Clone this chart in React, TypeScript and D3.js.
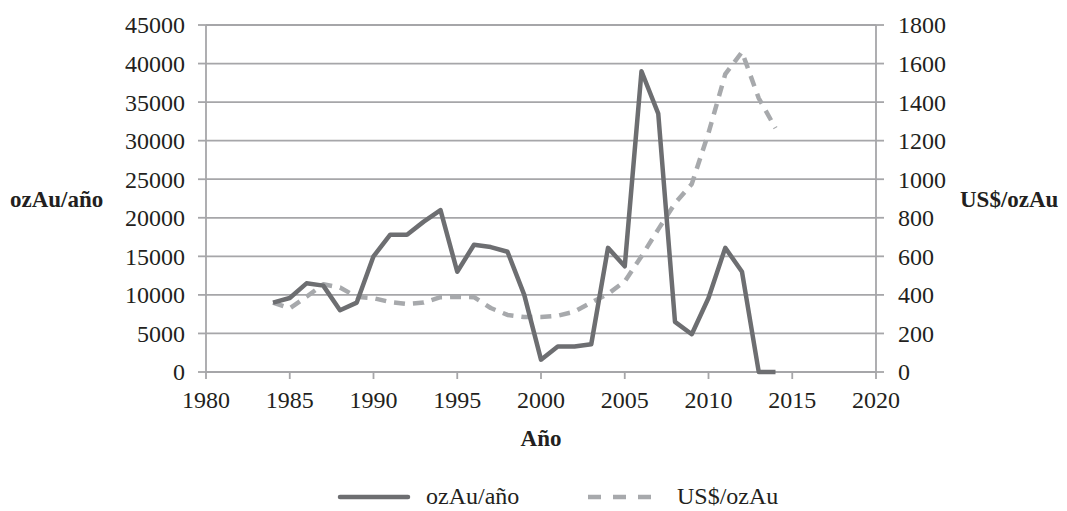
import * as d3 from 'd3';

const years = [1984, 1985, 1986, 1987, 1988, 1989, 1990, 1991, 1992, 1993, 1994, 1995, 1996, 1997, 1998, 1999, 2000, 2001, 2002, 2003, 2004, 2005, 2006, 2007, 2008, 2009, 2010, 2011, 2012, 2013, 2014];
const ozAuYear = [9000, 9600, 11500, 11200, 8000, 9000, 15000, 17800, 17800, 19500, 21000, 13000, 16500, 16200, 15600, 10000, 1600, 3300, 3300, 3600, 16100, 13700, 39000, 33500, 6500, 4900, 9600, 16100, 13000, 0, 0];
const usdPerOz = [360, 330, 390, 455, 438, 390, 383, 363, 353, 360, 388, 390, 388, 332, 296, 285, 285, 292, 313, 360, 405, 470, 600, 740, 875, 975, 1240, 1545, 1660, 1420, 1265];

const xTicks = [1980, 1985, 1990, 1995, 2000, 2005, 2010, 2015, 2020];
const leftTicks = [0, 5000, 10000, 15000, 20000, 25000, 30000, 35000, 40000, 45000];
const rightTicks = [0, 200, 400, 600, 800, 1000, 1200, 1400, 1600, 1800];

const FONT = "'Liberation Serif', 'Times New Roman', 'DejaVu Serif', serif";
const TEXT = '#231f20';
const GRID = '#a6a6a9';
const SOLID = '#6d6e71';
const DASHED = '#a7a9ac';

export default function App() {
  const width = 1067;
  const height = 511;

  const x = d3.scaleLinear().domain([1980, 2020]).range([206, 876]);
  const yL = d3.scaleLinear().domain([0, 45000]).range([372, 25]);
  const yR = d3.scaleLinear().domain([0, 1800]).range([372, 25]);

  const prodLine = d3.line<number>()
    .x((_, i) => x(years[i]))
    .y((d) => yL(d));
  const priceLine = d3.line<number>()
    .x((_, i) => x(years[i]))
    .y((d) => yR(d));

  const [x0, x1] = x.range();
  const y0 = yL(0);
  const txt = { fontFamily: FONT };

  return (
    <svg width={width} height={height} style={{ position: 'absolute', left: 0, top: 0, fontFamily: FONT }}>
      <rect width={width} height={height} fill="#fff" />

      {/* gridlines */}
      {leftTicks.map((t) => (
        <line key={'g' + t} x1={x0} x2={x1} y1={yL(t)} y2={yL(t)} stroke={GRID} strokeWidth={1.8} />
      ))}

      {/* axes */}
      <line x1={x0} x2={x0} y1={yL(45000)} y2={y0} stroke={GRID} strokeWidth={1.8} />
      <line x1={x1} x2={x1} y1={yR(1800)} y2={y0} stroke={GRID} strokeWidth={1.8} />
      <line x1={x0} x2={x1} y1={y0} y2={y0} stroke={GRID} strokeWidth={1.8} />

      {leftTicks.map((t) => (
        <g key={'l' + t}>
          <line x1={x0 - 8} x2={x0} y1={yL(t)} y2={yL(t)} stroke={GRID} strokeWidth={1.8} />
          <text x={185} y={yL(t)} dy="0.35em" textAnchor="end" fontSize={24} fill={TEXT} style={txt}>{t}</text>
        </g>
      ))}
      {rightTicks.map((t) => (
        <g key={'r' + t}>
          <line x1={x1} x2={x1 + 8} y1={yR(t)} y2={yR(t)} stroke={GRID} strokeWidth={1.8} />
          <text x={898} y={yR(t)} dy="0.35em" textAnchor="start" fontSize={24} fill={TEXT} style={txt}>{t}</text>
        </g>
      ))}
      {xTicks.map((t) => (
        <g key={'x' + t}>
          <line x1={x(t)} x2={x(t)} y1={y0} y2={y0 + 7} stroke={GRID} strokeWidth={1.8} />
          <text x={x(t)} y={408} textAnchor="middle" fontSize={24} fill={TEXT} style={txt}>{t}</text>
        </g>
      ))}

      {/* axis titles */}
      <text x={10} y={207} fontSize={23} fontWeight="bold" fill={TEXT} style={txt}>ozAu/año</text>
      <text x={960} y={207} fontSize={23} fontWeight="bold" fill={TEXT} style={txt}>US$/ozAu</text>
      <text x={541} y={446} textAnchor="middle" fontSize={23} fontWeight="bold" fill={TEXT} style={txt}>Año</text>

      {/* series */}
      <path d={priceLine(usdPerOz) ?? ''} fill="none" stroke={DASHED} strokeWidth={4.5} strokeDasharray="11,8" strokeLinejoin="round" />
      <path d={prodLine(ozAuYear) ?? ''} fill="none" stroke={SOLID} strokeWidth={4.5} strokeLinejoin="round" />

      {/* legend */}
      <line x1={340} x2={408} y1={497} y2={497} stroke={SOLID} strokeWidth={4.5} strokeLinecap="round" />
      <text x={426} y={504} fontSize={24} fill={TEXT} style={txt}>ozAu/año</text>
      <line x1={588} x2={652} y1={497} y2={497} stroke={DASHED} strokeWidth={4.5} strokeDasharray="13,12" />
      <text x={677} y={504} fontSize={24} fill={TEXT} style={txt}>US$/ozAu</text>
    </svg>
  );
}
